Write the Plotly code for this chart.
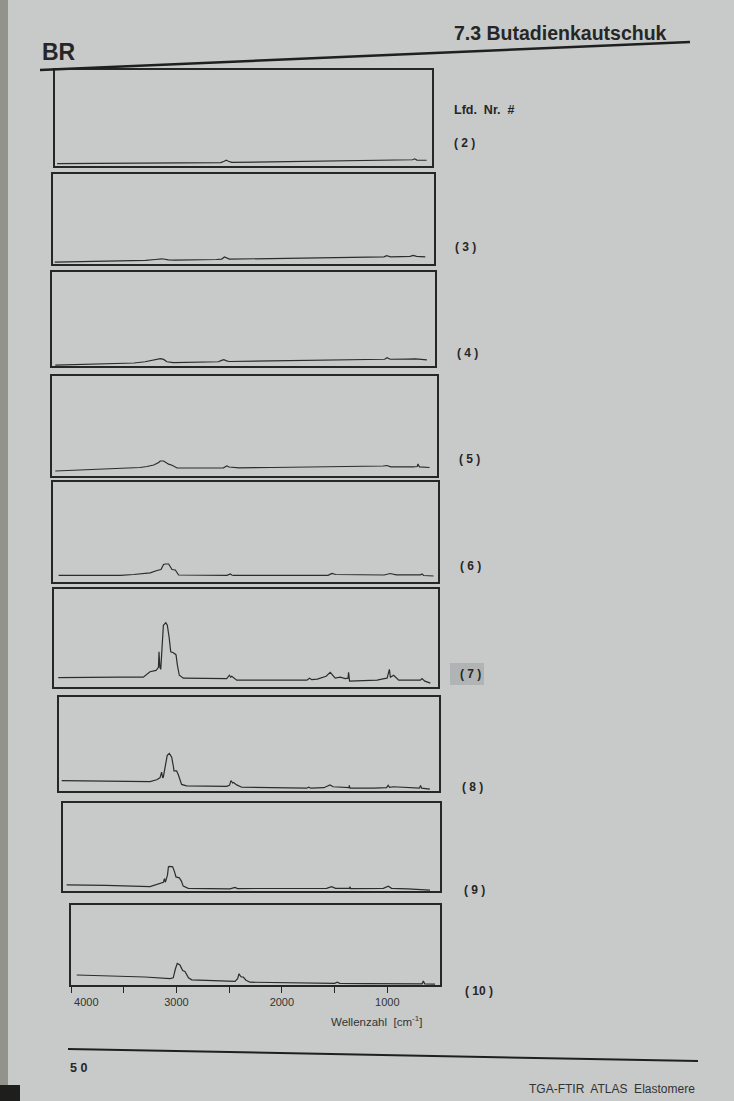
import plotly.graph_objects as go

W, H = 734, 1101

# ---------------- data (wavenumber in cm-1, relative absorbance) ----------------
panel_labels = ["( 2 )", "( 3 )", "( 4 )", "( 5 )", "( 6 )", "( 7 )", "( 8 )", "( 9 )", "( 10 )"]

wn2 = [3980, 3500, 3000, 2600, 2460, 2430, 2410, 2390, 2360, 2000, 1500, 1000, 750, 680, 660, 640, 550]
a2 = [0.025, 0.028, 0.032, 0.035, 0.036, 0.05, 0.06, 0.05, 0.038, 0.042, 0.048, 0.055, 0.06, 0.065, 0.075, 0.062, 0.06]

wn3 = [3984, 3500, 3150, 3060, 3000, 2940, 2880, 2500, 2450, 2425, 2405, 2380, 2000, 1500, 1150, 1000, 960, 935, 900, 800, 720, 690, 660, 580]
a3 = [0.02, 0.03, 0.04, 0.05, 0.058, 0.045, 0.042, 0.05, 0.055, 0.078, 0.07, 0.055, 0.06, 0.068, 0.075, 0.078, 0.08, 0.092, 0.08, 0.082, 0.085, 0.095, 0.085, 0.08]

wn4 = [3970, 3600, 3250, 3150, 3060, 3010, 2980, 2950, 2890, 2700, 2480, 2450, 2430, 2405, 2380, 2000, 1578, 1100, 960, 938, 910, 750, 700, 680, 574]
a4 = [0.01, 0.02, 0.032, 0.045, 0.07, 0.078, 0.07, 0.045, 0.035, 0.04, 0.045, 0.06, 0.068, 0.055, 0.048, 0.055, 0.065, 0.07, 0.072, 0.088, 0.072, 0.073, 0.078, 0.075, 0.065]

wn5 = [3970, 3411, 3200, 3136, 3075, 3030, 3016, 2985, 2960, 2940, 2909, 2880, 2863, 2600, 2441, 2420, 2411, 2390, 2366, 2300, 2000, 1593, 1300, 1046, 990, 955, 920, 720, 680, 673, 660, 567]
a5 = [0.05, 0.07, 0.085, 0.095, 0.11, 0.135, 0.15, 0.15, 0.135, 0.118, 0.108, 0.095, 0.08, 0.08, 0.082, 0.095, 0.1, 0.09, 0.088, 0.082, 0.085, 0.09, 0.092, 0.095, 0.1, 0.105, 0.092, 0.092, 0.095, 0.12, 0.092, 0.085]

wn6 = [3949, 3388, 3267, 3116, 3055, 3018, 2995, 2979, 2949, 2930, 2918, 2888, 2870, 2858, 2418, 2400, 2388, 2375, 2360, 1500, 1464, 1430, 1391, 1330, 990, 935, 880, 660, 646, 630, 540]
a6 = [0.066, 0.066, 0.075, 0.092, 0.115, 0.125, 0.175, 0.18, 0.18, 0.15, 0.125, 0.12, 0.09, 0.07, 0.066, 0.075, 0.08, 0.07, 0.066, 0.066, 0.085, 0.075, 0.075, 0.07, 0.07, 0.085, 0.072, 0.072, 0.08, 0.065, 0.06]

wn7 = [3961, 3700, 3400, 3186, 3125, 3070, 3048, 3043, 3035, 3027, 3010, 3003, 2981, 2967, 2950, 2936, 2912, 2888, 2875, 2858,
       2821, 2500, 2426, 2401, 2390, 2380, 2358, 2334, 2000, 1720, 1695, 1671, 1650, 1600, 1520, 1482, 1460, 1437, 1391, 1346,
       1320, 1315, 1306, 1200, 1055, 990, 964, 943, 934, 904, 858, 750, 661, 646, 620, 570]
a7 = [0.095, 0.1, 0.1, 0.1, 0.156, 0.17, 0.2, 0.36, 0.2, 0.18, 0.45, 0.63, 0.656, 0.63, 0.5, 0.36, 0.35, 0.33, 0.22, 0.12,
      0.09, 0.085, 0.085, 0.12, 0.1, 0.11, 0.09, 0.07, 0.07, 0.07, 0.07, 0.09, 0.075, 0.08, 0.11, 0.15, 0.12, 0.09, 0.10, 0.085,
      0.09, 0.15, 0.06, 0.065, 0.07, 0.085, 0.09, 0.18, 0.10, 0.12, 0.07, 0.07, 0.07, 0.085, 0.06, 0.04]

wn8 = [3975, 3700, 3400, 3162, 3100, 3070, 3055, 3045, 3039, 3020, 3003, 2984, 2962, 2945, 2941, 2917, 2900, 2871, 2825, 2456,
       2430, 2416, 2400, 2393, 2363, 2317, 2000, 1720, 1700, 1680, 1560, 1504, 1475, 1400, 1330, 1326, 1320, 1100, 983, 968,
       955, 922, 750, 680, 670, 660, 584]
a8 = [0.11, 0.105, 0.10, 0.10, 0.12, 0.14, 0.20, 0.14, 0.15, 0.30, 0.38, 0.40, 0.36, 0.25, 0.215, 0.215, 0.17, 0.07, 0.055, 0.05,
      0.06, 0.11, 0.085, 0.09, 0.065, 0.04, 0.035, 0.03, 0.04, 0.03, 0.035, 0.065, 0.045, 0.04, 0.035, 0.06, 0.03, 0.03, 0.035, 0.06,
      0.04, 0.045, 0.03, 0.03, 0.06, 0.03, 0.02]

wn9 = [3966, 3600, 3192, 3130, 3068, 3058, 3050, 3030, 3021, 3007, 2982, 2965, 2951, 2920, 2900, 2884, 2837, 2450, 2420, 2403,
       2380, 2000, 1553, 1506, 1470, 1340, 1336, 1330, 1026, 980, 950, 800, 593]
a9 = [0.07, 0.065, 0.05, 0.075, 0.10, 0.14, 0.10, 0.18, 0.275, 0.28, 0.275, 0.22, 0.16, 0.15, 0.11, 0.055, 0.03, 0.025, 0.03, 0.04,
      0.028, 0.028, 0.03, 0.05, 0.03, 0.03, 0.05, 0.028, 0.03, 0.055, 0.03, 0.025, 0.01]

wn10 = [3946, 3600, 3300, 3061, 3030, 3010, 2992, 2967, 2941, 2919, 2900, 2886, 2855, 2600, 2444, 2420, 2406, 2392, 2385, 2366,
        2340, 2302, 2000, 1670, 1500, 1475, 1450, 1200, 1000, 800, 670, 658, 645, 547]
a10 = [0.125, 0.115, 0.10, 0.08, 0.09, 0.2, 0.27, 0.25, 0.18, 0.17, 0.13, 0.09, 0.065, 0.05, 0.045, 0.08, 0.14, 0.11, 0.10, 0.10,
       0.06, 0.035, 0.03, 0.02, 0.02, 0.035, 0.02, 0.018, 0.02, 0.015, 0.015, 0.05, 0.015, 0.01]

spectra_wn = [wn2, wn3, wn4, wn5, wn6, wn7, wn8, wn9, wn10]
spectra_abs = [a2, a3, a4, a5, a6, a7, a8, a9, a10]

tick_values = [4000, 3000, 2000, 1000]
tick_texts = ["\u00a0" * 10 + "4000", "3000", "2000", "1000"]
minor_tick_values = [3500, 2500, 1500]

# ---------------- layout helpers (pixel boxes: left, right, top, bottom) ----------------
boxes = [
    (55, 432, 70, 166),
    (53, 434, 174, 264),
    (52, 435, 272, 366),
    (52, 437, 376, 476),
    (53, 438, 482, 582),
    (54, 438, 589, 687),
    (59, 439, 697, 791),
    (63, 440, 803, 891),
    (71, 440, 905, 985),
]
label_pos = [(452, 143), (453, 247), (455, 353), (457, 459), (458, 566),
             (458, 674), (460, 787), (462, 890), (463, 991)]

def fx(px):
    return px / W

def fy(py):
    return 1 - py / H

FONT = "Liberation Sans, Arial, Helvetica, sans-serif"
INK = "#262626"
PAPER = "#c7cac9"

fig = go.Figure()
layout = dict(
    width=W, height=H, autosize=False,
    margin=dict(l=0, r=0, t=0, b=0, pad=0, autoexpand=False),
    paper_bgcolor=PAPER, plot_bgcolor=PAPER,
    showlegend=False,
    font=dict(family=FONT, color=INK),
)

n = len(boxes)
for i, ((l, r, t, b), xs, ys) in enumerate(zip(boxes, spectra_wn, spectra_abs)):
    k = "" if i == 0 else str(i + 1)
    fig.add_trace(go.Scatter(
        x=xs, y=ys, mode="lines",
        line=dict(color="#2c2c2c", width=1.2),
        xaxis="x" + k, yaxis="y" + k, hoverinfo="skip",
    ))
    last = (i == n - 1)
    xa = dict(
        domain=[fx(l), fx(r)], anchor="y" + k, range=[4000, 500],
        showgrid=False, zeroline=False, showline=True, mirror=True,
        linecolor=INK, linewidth=1.5, automargin=False,
        showticklabels=last,
    )
    if last:
        xa.update(
            ticks="outside", ticklen=6, tickwidth=1.2, tickcolor=INK,
            tickmode="array", tickvals=tick_values, ticktext=tick_texts,
            tickfont=dict(size=11, color="#333333", family=FONT),
            minor=dict(tickmode="array", tickvals=minor_tick_values, ticks="outside",
                       ticklen=6, tickwidth=1.2, tickcolor=INK, showgrid=False),
        )
    else:
        xa.update(ticks="", tickvals=[], ticktext=[])
    layout["xaxis" + k] = xa
    layout["yaxis" + k] = dict(
        domain=[fy(b), fy(t)], anchor="x" + k, range=[0, 1],
        showgrid=False, zeroline=False, showline=True, mirror=True,
        linecolor=INK, linewidth=1.5, ticks="", showticklabels=False, automargin=False,
    )

shapes = [
    # book edge on the left
    dict(type="rect", xref="paper", yref="paper", x0=0, x1=fx(8), y0=0, y1=1,
         fillcolor="#92948c", line=dict(width=0), layer="below"),
    dict(type="rect", xref="paper", yref="paper", x0=0, x1=fx(20), y0=0, y1=fy(1085),
         fillcolor="#1e1e1c", line=dict(width=0), layer="below"),
    # header rule
    dict(type="line", xref="paper", yref="paper", x0=fx(40), y0=fy(70), x1=fx(690), y1=fy(42),
         line=dict(color="#1f1f1f", width=2.5)),
    # footer rule
    dict(type="line", xref="paper", yref="paper", x0=fx(68), y0=fy(1049), x1=fx(698), y1=fy(1061),
         line=dict(color="#1f1f1f", width=2)),
    # highlight behind (7)
    dict(type="rect", xref="paper", yref="paper", x0=fx(450), x1=fx(484), y0=fy(685), y1=fy(663),
         fillcolor="#b0b4b4", line=dict(width=0), layer="below"),
]
layout["shapes"] = shapes

ann = []
def text(s, px, py, size, bold=False, xanchor="left", color=INK):
    ann.append(dict(
        text=("<b>%s</b>" % s) if bold else s, x=fx(px), y=fy(py),
        xref="paper", yref="paper", xanchor=xanchor, yanchor="middle",
        showarrow=False, font=dict(size=size, family=FONT, color=color),
    ))

text("BR", 40, 52, 23, bold=True)
text("7.3 Butadienkautschuk", 452, 33, 19.5, bold=True)
text("Lfd.  Nr.  #", 452, 110, 12.5, bold=True)
for lab, (px, py) in zip(panel_labels, label_pos):
    text(lab, px, py, 12, bold=True)
text("Wellenzahl  [cm<sup>-1</sup>]", 376, 1021, 11.5, xanchor="center", color="#333333")
text("5 0", 68, 1068, 12.5, bold=True)
text("TGA-FTIR  ATLAS  Elastomere", 697, 1089, 12, xanchor="right", color="#333333")
layout["annotations"] = ann

fig.update_layout(**layout)
fig.write_html("out.html")
